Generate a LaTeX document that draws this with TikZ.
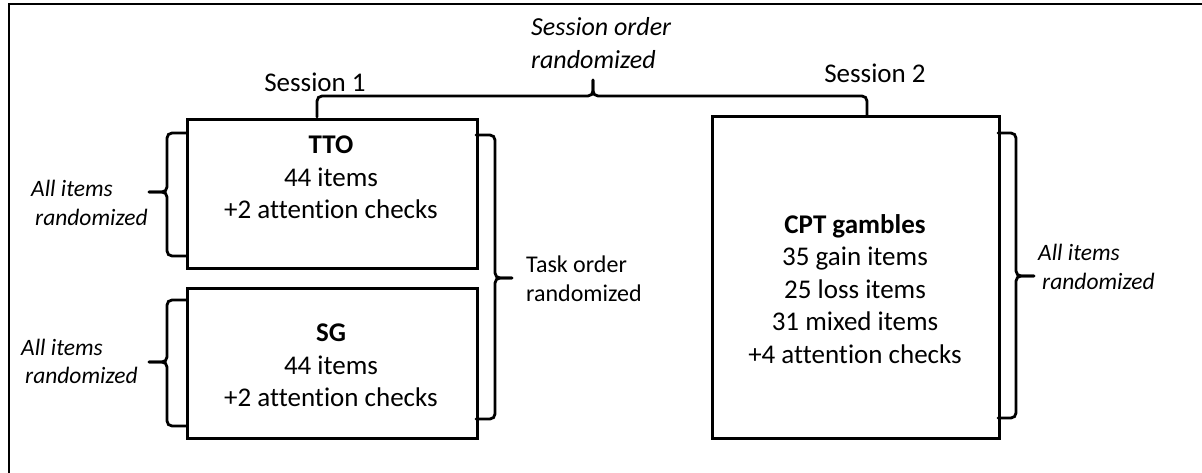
\documentclass[tikz,border=0pt]{standalone}
\usepackage{fontspec}
\setmainfont{Carlito}[Ligatures=NoCommon]

% side brace: box edge x, spine x, tip x, top y, tip y, bottom y
\newcommand\sidebrace[6]{%
  \draw[bracestyle] (#1,#4) -- (#2,#4) -- (#2,#5) -- (#3,#5);
  \draw[bracestyle] (#1,#6) -- (#2,#6) -- (#2,#5) -- (#3,#5);}

\begin{document}
\begin{tikzpicture}[x=1pt,y=-1pt,
  frame/.style={line width=1.6pt, draw=black},
  taskbox/.style={draw=black, line width=3pt, anchor=north west, inner sep=0pt},
  boxtext/.style={align=center, inner sep=0pt, font=\fontsize{27}{32.5}\selectfont},
  sessiontext/.style={inner sep=0pt, font=\fontsize{27}{32.5}\selectfont},
  sidetext/.style={align=left, inner sep=0pt, anchor=west, font=\fontsize{23.5}{28.5}\selectfont\itshape},
  toptext/.style={align=left, inner sep=0pt, anchor=west, font=\fontsize{26}{33}\selectfont\itshape},
  ordertext/.style={align=left, inner sep=0pt, anchor=west, font=\fontsize{24}{29}\selectfont},
  bracestyle/.style={draw=black, line width=2.8pt, rounded corners=5pt, line cap=round}]

\useasboundingbox (0,0) rectangle (1202,473);
\fill[white] (0,0) rectangle (1202,473);

% outer frame (open towards the right and the bottom)
\draw[frame] (9,473) -- (9,4) -- (1202,4);

% task boxes
\node[taskbox, minimum width=290pt, minimum height=149pt] (tto) at (186,118) {};
\node[taskbox, minimum width=290pt, minimum height=150pt] (sg)  at (186,287) {};
\node[taskbox, minimum width=287pt, minimum height=322pt] (cpt) at (711,115) {};

\node[boxtext] (ttotext) at (331,177.5) {\textbf{TTO}\\44 items\\+2 attention checks};
\node[boxtext] (sgtext)  at (331,365.5) {\textbf{SG}\\44 items\\+2 attention checks};
\node[boxtext] (cpttext) at (855,289) {\textbf{CPT gambles}\\35 gain items\\25 loss items\\31 mixed items\\+4 attention checks};

% session labels
\node[sessiontext] (s1) at (315,82) {Session 1};
\node[sessiontext] (s2) at (875,73) {Session 2};

% session-order brace
\draw[bracestyle] (317,117) -- (317,96) -- (593,96) -- (593,80);
\draw[bracestyle] (867,116) -- (867,96) -- (593,96) -- (593,80);
\node[toptext] (sessorder) at (531,43.5) {Session order\\randomized};

% item-order braces and task-order brace
\sidebrace{186}{167}{149}{133}{192}{256}
\sidebrace{186}{167}{149}{300}{362}{426}
\sidebrace{476}{495}{512}{135}{278}{419}
\sidebrace{998}{1016}{1034}{133}{276}{418}

\node[sidetext] (ttoitems) at (31,203) {All items\\\hspace{4pt}randomized};
\node[sidetext] (sgitems)  at (21,361.5) {All items\\\hspace{4pt}randomized};
\node[sidetext] (cptitems) at (1038,267) {All items\\\hspace{4pt}randomized};
\node[ordertext] (taskorder) at (526,279) {Task order\\randomized};

\end{tikzpicture}
\end{document}
